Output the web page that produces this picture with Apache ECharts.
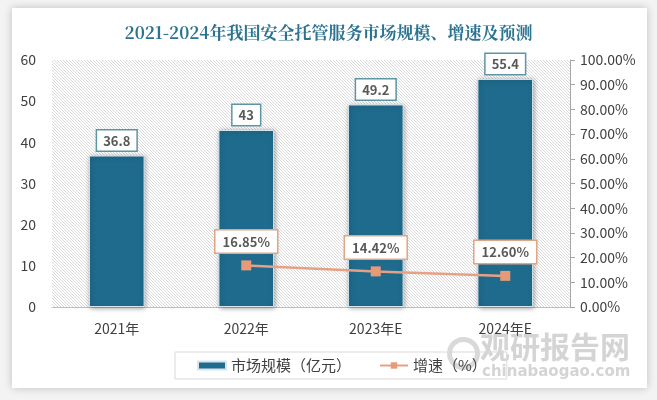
<!DOCTYPE html>
<html><head><meta charset="utf-8">
<script src="https://cdn.jsdelivr.net/npm/echarts@6/dist/echarts.min.js"></script>
<style>
html,body{margin:0;padding:0;width:657px;height:400px;background:#f3f3f3;overflow:hidden;}
#card{position:absolute;left:12px;top:8px;width:635px;height:380px;background:#fff;box-shadow:0 0 8px rgba(0,0,0,0.22);}
#chart{position:absolute;left:0;top:0;width:657px;height:400px;}
</style></head>
<body><div id="card"></div><div id="chart"></div>
<script>
const categories = ['2021年','2022年','2023年E','2024年E'];
const marketSize = [36.8, 43, 49.2, 55.4];
const growthRate = [null, 16.85, 14.42, 12.60];
const leftTicks = [0, 60, 10];
const rightTicks = [0, 100, 10];

const pc = document.createElement('canvas');
pc.width = 6; pc.height = 6;
const g = pc.getContext('2d');
g.fillStyle = '#ffffff'; g.fillRect(0,0,6,6);
g.strokeStyle = '#d9d9d9'; g.lineWidth = 1;
for (let k = -2; k <= 2; k++) { g.beginPath(); g.moveTo(k*6 - 1, -1); g.lineTo(k*6 + 7, 7); g.stroke(); g.beginPath(); g.moveTo(k*6+2,-1); g.lineTo(k*6+10,7); g.stroke(); }

const chart = echarts.init(document.getElementById('chart'), null, {renderer:'canvas'});
const fontCJK = '"Microsoft YaHei","Noto Sans CJK SC","Noto Sans",sans-serif';
chart.setOption({
  backgroundColor: 'transparent',
  animation: false,
  title: {
    text: '2021-2024年我国安全托管服务市场规模、增速及预测',
    left: 'center', top: 19,
    textStyle: {color: '#2b7391', fontSize: 17, fontWeight: 'bold', fontFamily: '"Noto Serif CJK SC","Noto Sans CJK SC",serif'}
  },
  grid: {left: 52, right: 87, top: 60, bottom: 93, show: true, borderWidth: 0,
    backgroundColor: {image: pc, repeat: 'repeat'}},
  legend: {
    left: 175, top: 352, width: 308, height: 29,
    padding: [6, 20, 6, 22], itemGap: 28,
    borderColor: '#d9d9d9', borderWidth: 1,
    textStyle: {fontSize: 15, color: '#404040', fontFamily: fontCJK},
    data: [
      {name: '市场规模（亿元）', icon: 'rect', itemStyle: {color: '#1f6b8d'}},
      {name: '增速（%）'}
    ],
    itemWidth: 28, itemHeight: 8
  },
  xAxis: {
    type: 'category', data: categories,
    axisLine: {lineStyle: {color: '#bfbfbf'}},
    axisTick: {show: false},
    axisLabel: {color: '#404040', fontSize: 14, margin: 15, fontFamily: fontCJK}
  },
  yAxis: [
    {type: 'value', min: leftTicks[0], max: leftTicks[1], interval: leftTicks[2],
     axisLine: {show: false}, axisTick: {show: false}, splitLine: {show: false},
     axisLabel: {color: '#404040', fontSize: 14, margin: 16, fontFamily: fontCJK}},
    {type: 'value', min: rightTicks[0], max: rightTicks[1], interval: rightTicks[2],
     axisLine: {show: true, lineStyle: {color: '#a6a6a6'}},
     axisTick: {show: true, length: 5, lineStyle: {color: '#a6a6a6'}},
     splitLine: {show: false},
     axisLabel: {color: '#404040', fontSize: 14, margin: 10, fontFamily: fontCJK,
       formatter: v => v.toFixed(2) + '%'}}
  ],
  series: [
    {name: '市场规模（亿元）', type: 'bar', data: marketSize, barWidth: '43%',
     itemStyle: {color: '#1f6b8d', borderColor: '#d7e6ec', borderWidth: 1,
       shadowColor: 'rgba(0,0,0,0.35)', shadowBlur: 5, shadowOffsetX: 1, shadowOffsetY: 1},
     label: {show: true, position: 'top', distance: 5,
       color: '#595959', fontSize: 13, fontWeight: 'bold', fontFamily: fontCJK,
       backgroundColor: '#fff', borderColor: '#5d94a6', borderWidth: 1.5, padding: [4, 6, 3, 6]}},
    {name: '增速（%）', type: 'line', yAxisIndex: 1, data: growthRate,
     symbol: 'rect', symbolSize: 10,
     lineStyle: {color: '#e6a184', width: 2.5},
     itemStyle: {color: '#e69a78'},
     label: {show: true, position: 'top', distance: 8,
       formatter: p => p.value.toFixed(2) + '%',
       color: '#595959', fontSize: 13, fontWeight: 'bold', fontFamily: fontCJK,
       backgroundColor: '#fff', borderColor: '#e3a385', borderWidth: 1.5, padding: [5, 7, 4, 7]}}
  ],
  graphic: [
    {type: 'circle', left: 447, top: 337, shape: {r: 14}, style: {fill: 'none', stroke: 'rgba(170,170,170,0.45)', lineWidth: 5}},
    {type: 'text', left: 480, top: 332, style: {text: '观研报告网', fill: 'rgba(160,160,160,0.45)', font: 'bold 30px "Noto Sans CJK SC",sans-serif'}},
    {type: 'text', left: 482, top: 365, style: {text: 'chinabaogao.com', fill: 'rgba(160,160,160,0.45)', font: 'bold 15px "DejaVu Sans",sans-serif'}}
  ]
});
</script></body></html>
